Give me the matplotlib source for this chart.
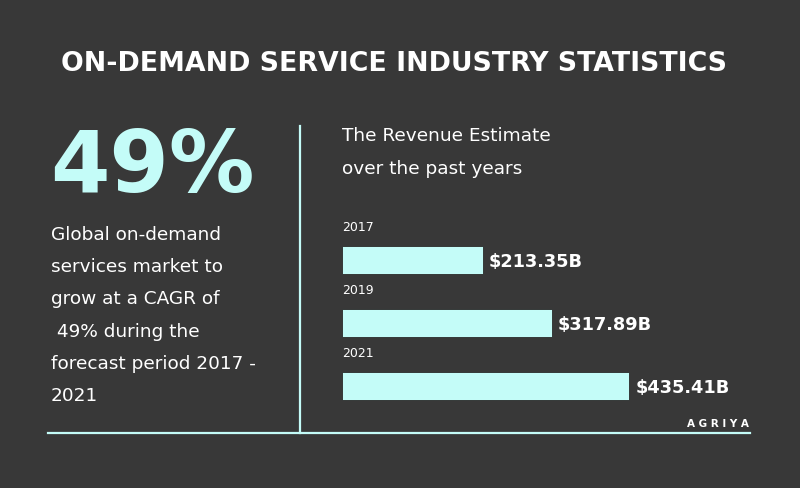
import matplotlib.pyplot as plt
from matplotlib.lines import Line2D

years = ['2017', '2019', '2021']
revenue = [213.35, 317.89, 435.41]
value_labels = ['$213.35B', '$317.89B', '$435.41B']

title = 'ON-DEMAND SERVICE INDUSTRY STATISTICS'
big_stat = '49%'
stat_text = ['Global on-demand', 'services market to', 'grow at a CAGR of',
             ' 49% during the', 'forecast period 2017 -', '2021']
chart_heading = ['The Revenue Estimate', 'over the past years']

bg = '#383838'
cyan = '#c4fcf8'
W, H = 800, 489

plt.rcParams['font.family'] = ['DejaVu Sans']
fig = plt.figure(figsize=(8, 4.89), dpi=100, facecolor=bg)


def fx(px):
    return px / W


def fy(py):
    return 1 - py / H


fig.text(fx(394), fy(71), title, color='white', fontsize=19.3, fontweight='bold',
         ha='center', va='baseline')

fig.text(fx(50), fy(192), big_stat, color=cyan, fontsize=61.5, fontweight='bold',
         ha='left', va='baseline')

for i, line in enumerate(stat_text):
    fig.text(fx(51), fy(240 + i * 32.2), line, color='white', fontsize=13.3,
             ha='left', va='baseline')

for i, line in enumerate(chart_heading):
    fig.text(fx(342), fy(141 + i * 33), line, color='white', fontsize=13.3,
             ha='left', va='baseline')

# separators
fig.add_artist(Line2D([fx(300), fx(300)], [fy(127), fy(434)], color=cyan, lw=1.6))
fig.add_artist(Line2D([fx(48), fx(750)], [fy(434), fy(434)], color=cyan, lw=1.6))
fig.text(fx(749), fy(427), 'A G R I Y A', color='white', fontsize=7.5,
         fontweight='bold', ha='right', va='baseline')

# bar chart
scale = 0.66
ax = fig.add_axes([fx(342), fy(418.5), fx(420), (418.5 - 229.5) / H])
ax.set_facecolor('none')
pos = list(range(len(years)))
ax.barh(pos, revenue, height=0.46, color=cyan, edgecolor='#2a2a2a', linewidth=0.6)
ax.set_ylim(2.5, -0.5)
ax.set_xlim(0, 420 / scale)
for p, yr, v, lab in zip(pos, years, revenue, value_labels):
    ax.text(0, p - 0.47, yr, color='white', fontsize=9,
            ha='left', va='baseline')
    ax.text(v + 9, p + 0.1, lab, color='white', fontsize=12.8, fontweight='bold',
            ha='left', va='baseline')
ax.axis('off')

fig.savefig('out.png', dpi=100, facecolor=bg)
